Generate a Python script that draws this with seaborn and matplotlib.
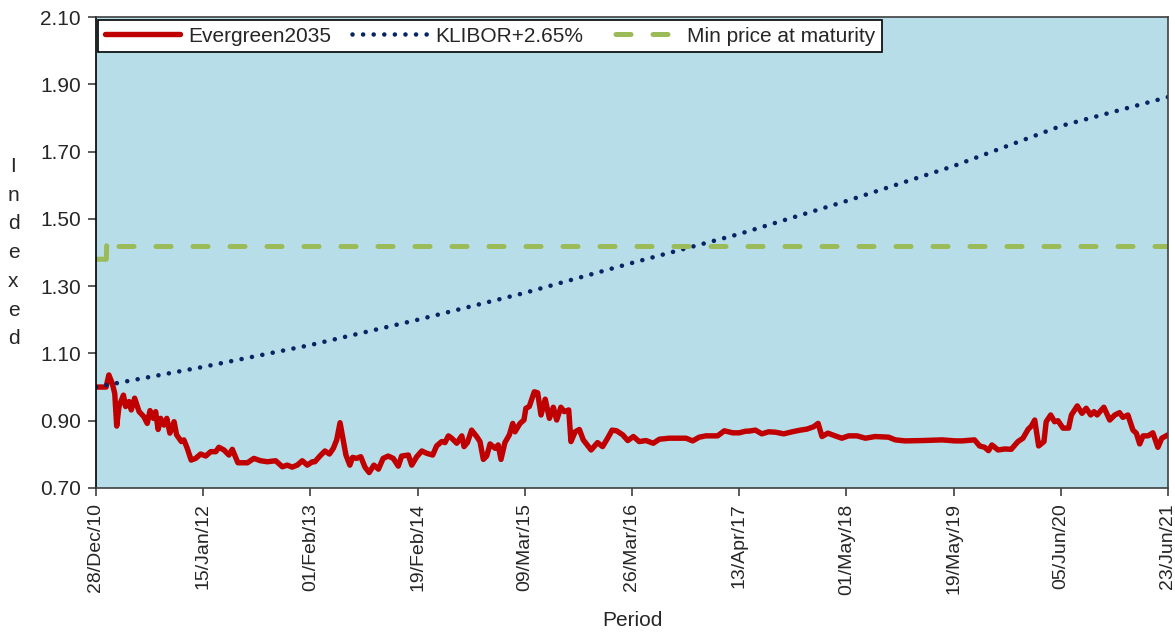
import pandas as pd
import matplotlib
matplotlib.use("Agg")
import matplotlib.pyplot as plt
import matplotlib.dates as mdates
import seaborn as sns

# Series (days after 28 Dec 2010)
start = pd.Timestamp("2010-12-28")

red_days = [0, 36, 46, 58, 67, 74, 82, 98, 106, 118,
            126, 138, 154, 171, 183, 193, 205, 213, 222, 231,
            243, 253, 264, 279, 288, 305, 314, 326, 340, 356,
            374, 392, 410, 428, 439, 457, 475, 487, 507, 541,
            564, 588, 612, 642, 666, 683, 701, 719, 737, 755,
            773, 782, 800, 818, 834, 848, 860, 872, 881, 893,
            907, 917, 931, 946, 961, 976, 993, 1009, 1026, 1044,
            1062, 1080, 1092, 1116, 1128, 1146, 1164, 1182, 1203, 1217,
            1235, 1247, 1259, 1271, 1289, 1307, 1315, 1327, 1342, 1360,
            1372, 1384, 1396, 1408, 1426, 1437, 1447, 1461, 1477, 1489,
            1497, 1515, 1529, 1536, 1548, 1566, 1578, 1590, 1605, 1620,
            1634, 1646, 1661, 1673, 1689, 1697, 1712, 1727, 1741, 1769,
            1792, 1810, 1828, 1844, 1860, 1882, 1900, 1920, 1941, 1965,
            1991, 2013, 2048, 2084, 2108, 2132, 2155, 2179, 2221, 2245,
            2275, 2298, 2322, 2332, 2356, 2379, 2403, 2427, 2457, 2487,
            2516, 2540, 2564, 2580, 2594, 2615, 2641, 2665, 2689, 2719,
            2749, 2784, 2832, 2856, 2891, 2951, 3023, 3070, 3094, 3139,
            3157, 3175, 3189, 3201, 3223, 3247, 3270, 3294, 3312, 3330,
            3342, 3354, 3368, 3387, 3395, 3411, 3425, 3437, 3455, 3475,
            3485, 3506, 3523, 3538, 3554, 3566, 3577, 3590, 3601, 3622,
            3640, 3657, 3669, 3687, 3705, 3717, 3729, 3741, 3759, 3776,
            3794, 3808, 3830]
red_vals = [1.00, 1.00, 1.036, 1.011, 0.981, 0.884, 0.942, 0.976, 0.942, 0.957,
            0.932, 0.967, 0.927, 0.912, 0.892, 0.930, 0.907, 0.927, 0.874, 0.907,
            0.887, 0.907, 0.863, 0.897, 0.858, 0.838, 0.843, 0.818, 0.783, 0.788,
            0.801, 0.795, 0.808, 0.808, 0.821, 0.813, 0.798, 0.815, 0.775, 0.775,
            0.788, 0.781, 0.778, 0.781, 0.763, 0.768, 0.762, 0.768, 0.781, 0.768,
            0.778, 0.778, 0.795, 0.810, 0.801, 0.818, 0.843, 0.894, 0.853, 0.798,
            0.768, 0.791, 0.788, 0.793, 0.762, 0.746, 0.768, 0.756, 0.788, 0.795,
            0.788, 0.765, 0.795, 0.798, 0.768, 0.793, 0.810, 0.803, 0.798, 0.825,
            0.838, 0.835, 0.855, 0.848, 0.833, 0.855, 0.823, 0.835, 0.872, 0.853,
            0.838, 0.785, 0.795, 0.831, 0.818, 0.828, 0.785, 0.835, 0.858, 0.892,
            0.867, 0.892, 0.902, 0.937, 0.942, 0.986, 0.983, 0.917, 0.964, 0.907,
            0.940, 0.902, 0.940, 0.927, 0.932, 0.838, 0.867, 0.874, 0.843, 0.813,
            0.835, 0.823, 0.848, 0.872, 0.870, 0.858, 0.841, 0.853, 0.838, 0.841,
            0.833, 0.845, 0.848, 0.848, 0.848, 0.840, 0.851, 0.855, 0.855, 0.870,
            0.864, 0.864, 0.869, 0.869, 0.872, 0.861, 0.867, 0.866, 0.861, 0.867,
            0.872, 0.875, 0.882, 0.892, 0.853, 0.863, 0.855, 0.848, 0.855, 0.855,
            0.848, 0.853, 0.851, 0.843, 0.840, 0.841, 0.843, 0.840, 0.840, 0.843,
            0.825, 0.821, 0.811, 0.828, 0.813, 0.816, 0.815, 0.838, 0.848, 0.874,
            0.884, 0.902, 0.825, 0.838, 0.897, 0.917, 0.897, 0.900, 0.878, 0.878,
            0.917, 0.944, 0.922, 0.937, 0.917, 0.927, 0.917, 0.930, 0.940, 0.902,
            0.917, 0.924, 0.910, 0.917, 0.872, 0.863, 0.831, 0.855, 0.855, 0.864,
            0.821, 0.848, 0.858]

klibor_days = [0, 383, 766, 1149, 1532, 1915, 2298, 2681, 3064, 3447, 3830]
klibor_vals = [1.00, 1.06, 1.125, 1.20, 1.28, 1.369, 1.455, 1.553, 1.657, 1.776, 1.862]

# min price: short solid step at the start, then the dashed level
step_days = [0, 37, 38]
step_vals = [1.38, 1.38, 1.42]
minprice_days = [38, 3830]
minprice_vals = [1.42, 1.42]

tick_days = [0, 383, 766, 1149, 1532, 1915, 2298, 2681, 3064, 3447, 3830]
y_ticks = [0.70, 0.90, 1.10, 1.30, 1.50, 1.70, 1.90, 2.10]


def to_dates(days):
    return start + pd.to_timedelta(days, unit="D")


red = pd.DataFrame({"date": to_dates(red_days), "value": red_vals})
klibor = pd.DataFrame({"date": to_dates(klibor_days), "value": klibor_vals})
step = pd.DataFrame({"date": to_dates(step_days), "value": step_vals})
minprice = pd.DataFrame({"date": to_dates(minprice_days), "value": minprice_vals})

sns.set_style("ticks")
plt.rcParams["font.family"] = ["Liberation Sans", "DejaVu Sans"]

fig = plt.figure(figsize=(11.75, 6.35), dpi=100)
ax = fig.add_axes([0.0817, 0.2315, 0.9123, 0.7417])
ax.set_facecolor("#b7dde8")

sns.lineplot(data=red, x="date", y="value", ax=ax, color="#c00000", linewidth=3.9,
             estimator=None, label="Evergreen2035", solid_joinstyle="round")
sns.lineplot(data=klibor, x="date", y="value", ax=ax, color="#0a2463", linewidth=3.3,
             estimator=None, label="KLIBOR+2.65%", linestyle=(0, (0.01, 2.3)),
             dash_capstyle="round")
sns.lineplot(data=step, x="date", y="value", ax=ax, color="#9bbb59", linewidth=3.6,
             estimator=None, sort=False, solid_capstyle="round")
sns.lineplot(data=minprice, x="date", y="value", ax=ax, color="#9bbb59", linewidth=3.6,
             estimator=None, label="Min price at maturity", linestyle=(5.1, (3.0, 4.4)),
             dash_capstyle="round")

ax.set_xlim(to_dates([0])[0], to_dates([3830])[0])
ax.set_ylim(0.70, 2.10)
ax.set_yticks(y_ticks)
ax.set_yticklabels([f"{v:.2f}" for v in y_ticks], fontsize=15)
ax.set_xticks(to_dates(tick_days))
ax.xaxis.set_major_formatter(mdates.DateFormatter("%d/%b/%y"))
plt.setp(ax.get_xticklabels(), rotation=90, fontsize=14)
ax.tick_params(axis="both", direction="out", length=6, width=1.2, color="#404040", pad=5)

for side in ["left", "bottom", "right", "top"]:
    ax.spines[side].set_visible(True)
    ax.spines[side].set_linewidth(1.2)
    ax.spines[side].set_color("#404040")
ax.spines["left"].set_color("black")

ax.set_xlabel("Period", fontsize=15, labelpad=12)
ax.set_ylabel("I\nn\nd\ne\nx\ne\nd", fontsize=15, rotation=0, linespacing=1.65,
              va="center", ha="center")
ax.yaxis.set_label_coords(-0.077, 0.50)

leg = ax.legend(loc="upper left", bbox_to_anchor=(0.002, 0.994), ncol=3, fontsize=15,
                frameon=True, fancybox=False, edgecolor="black", framealpha=1,
                handlelength=3.6, handletextpad=0.4, columnspacing=1.0,
                borderpad=0.32, borderaxespad=0.0)
leg.get_frame().set_linewidth(1.2)

fig.savefig("out.png", dpi=100)
